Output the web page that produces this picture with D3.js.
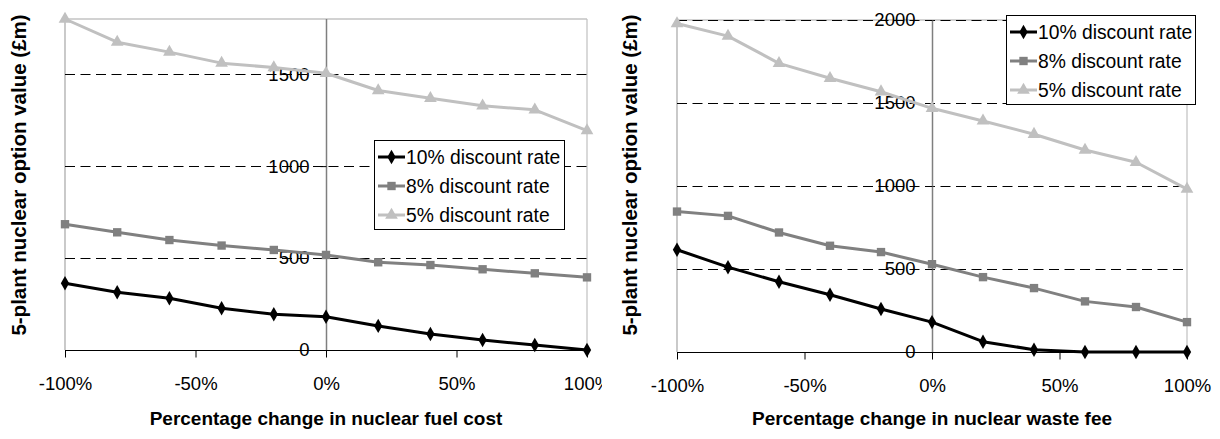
<!DOCTYPE html>
<html><head><meta charset="utf-8">
<script src="https://cdn.jsdelivr.net/npm/d3@7"></script>
<style>
html,body{margin:0;padding:0;background:#fff;}
svg{display:block;font-family:"Liberation Sans",Arial,sans-serif;}
</style></head>
<body>
<svg id="chart" width="1220" height="439"></svg>
<script>
// ---- data ----
const xValues = [-100, -80, -60, -40, -20, 0, 20, 40, 60, 80, 100];
const xTicks = [-100, -50, 0, 50, 100];
const seriesNames = ["10% discount rate", "8% discount rate", "5% discount rate"];

// Left: nuclear fuel cost
const fuel10 = [363, 314, 281, 227, 194, 181, 131, 87, 54, 27, 0];
const fuel8  = [684, 640, 598, 568, 544, 517, 477, 462, 439, 417, 395];
const fuel5  = [1800, 1674, 1620, 1560, 1536, 1505, 1411, 1369, 1328, 1306, 1193];
const fuelYTicks = [0, 500, 1000, 1500];

// Right: nuclear waste fee
const waste10 = [616, 511, 423, 345, 259, 180, 62, 14, 0, 0, 0];
const waste8  = [846, 820, 720, 640, 602, 529, 451, 385, 305, 271, 180];
const waste5  = [1979, 1903, 1739, 1649, 1568, 1468, 1392, 1312, 1217, 1143, 981];
const wasteYTicks = [0, 500, 1000, 1500, 2000];

const yTitle = "5-plant nuclear option value (£m)";
const xTitleFuel = "Percentage change in nuclear fuel cost";
const xTitleWaste = "Percentage change in nuclear waste fee";

// ---- styles ----
const colors = ["#000000", "#808080", "#c0c0c0"];
const markers = [d3.symbolDiamond, d3.symbolSquare, d3.symbolTriangle];
const markerSizes = [60, 70, 70];

const svg = d3.select("#chart");
const defs = svg.append("defs");

function drawChart(cfg) {
  const g = svg.append("g");
  if (cfg.clipRight) {
    const id = "clip" + cfg.id;
    defs.append("clipPath").attr("id", id).append("rect")
      .attr("x", 0).attr("y", 0).attr("width", cfg.clipRight).attr("height", 439);
    g.attr("clip-path", `url(#${id})`);
  }
  const x = d3.scaleLinear().domain([-100, 100]).range([cfg.x0, cfg.x1]);
  const y = d3.scaleLinear().domain([0, cfg.ymax]).range([cfg.yb, cfg.yt]);

  // plot area border (left/top/right)
  g.append("line").attr("x1", cfg.x0).attr("x2", cfg.x1).attr("y1", cfg.yt).attr("y2", cfg.yt)
    .attr("stroke", "#a6a6a6").attr("stroke-width", 1.2);
  g.append("line").attr("x1", cfg.x0).attr("x2", cfg.x0).attr("y1", cfg.yt).attr("y2", cfg.yb)
    .attr("stroke", "#a6a6a6").attr("stroke-width", 1.2);
  g.append("line").attr("x1", cfg.x1).attr("x2", cfg.x1).attr("y1", cfg.yt).attr("y2", cfg.yb)
    .attr("stroke", "#c0c0c0").attr("stroke-width", 1.2);

  // gridlines
  g.append("g").selectAll("line").data(cfg.yTicks.filter(d => d > 0)).join("line")
    .attr("x1", cfg.x0).attr("x2", cfg.x1)
    .attr("y1", d => Math.round(y(d)) + 0.5).attr("y2", d => Math.round(y(d)) + 0.5)
    .attr("stroke", "#000").attr("stroke-width", 1).attr("stroke-dasharray", "10,5.5");

  // y axis at x=0
  const yAxis = d3.axisLeft(y).tickValues(cfg.yTicks).tickSize(6).tickPadding(11)
    .tickFormat(d3.format("d"));
  const ya = g.append("g").attr("transform", `translate(${Math.round(x(0)) + 0.5},0)`).call(yAxis);
  ya.select(".domain").attr("stroke", "#7f7f7f").attr("stroke-width", 1.5)
    .attr("d", `M0,${cfg.yt}V${cfg.yb}`);
  ya.selectAll(".tick line").attr("stroke", "#000");
  ya.selectAll(".tick text").attr("font-size", 18.5).attr("fill", "#000")
    .attr("font-family", "Liberation Sans, Arial, sans-serif");

  // x axis at y=0
  const xAxis = d3.axisBottom(x).tickValues(cfg.xTicks).tickSize(7).tickPadding(19)
    .tickFormat(d => d + "%");
  const xa = g.append("g").attr("transform", `translate(0,${Math.round(y(0)) + 0.5})`).call(xAxis);
  xa.select(".domain").attr("stroke", "#000").attr("stroke-width", 1.2)
    .attr("d", `M${cfg.x0},0H${cfg.x1}`);
  xa.selectAll(".tick line").attr("stroke", "#000");
  xa.selectAll(".tick text").attr("font-size", 18.5).attr("fill", "#000")
    .attr("font-family", "Liberation Sans, Arial, sans-serif");

  // series
  const line = d3.line().x((d, i) => x(xValues[i])).y(d => y(d));
  cfg.series.forEach((vals, si) => {
    g.append("path").datum(vals).attr("d", line)
      .attr("fill", "none").attr("stroke", colors[si]).attr("stroke-width", 3)
      .attr("stroke-linejoin", "round");
    g.append("g").selectAll("path").data(vals).join("path")
      .attr("transform", (d, i) => `translate(${x(xValues[i])},${y(d)})`)
      .attr("d", d3.symbol().type(markers[si]).size(markerSizes[si]))
      .attr("fill", colors[si]);
  });

  // axis titles
  svg.append("text").attr("x", cfg.xTitleX).attr("y", 425).attr("text-anchor", "middle")
    .attr("font-size", 19).attr("font-weight", "bold").text(cfg.xTitle);
  svg.append("text")
    .attr("transform", `translate(${cfg.yTitleX},${cfg.yTitleY}) rotate(-90)`)
    .attr("text-anchor", "middle").attr("font-size", 20.5).attr("font-weight", "bold")
    .text(yTitle);

  // legend
  const L = cfg.legend;
  const lg = svg.append("g");
  lg.append("rect").attr("x", L.x + 0.5).attr("y", L.y + 0.5).attr("width", L.w).attr("height", L.h)
    .attr("fill", "#fff").attr("stroke", "#000").attr("stroke-width", 1);
  seriesNames.forEach((name, si) => {
    const cy = L.y + 17 + si * 29;
    lg.append("line").attr("x1", L.x + 4).attr("x2", L.x + 31).attr("y1", cy).attr("y2", cy)
      .attr("stroke", colors[si]).attr("stroke-width", 3);
    lg.append("path").attr("transform", `translate(${L.x + 17.5},${cy})`)
      .attr("d", d3.symbol().type(markers[si]).size(markerSizes[si])).attr("fill", colors[si]);
    lg.append("text").attr("x", L.x + 32).attr("y", cy).attr("dy", "0.35em")
      .attr("font-size", 19.3).text(name);
  });
}

drawChart({
  id: "L", x0: 65, x1: 587, yt: 19, yb: 350, ymax: 1800,
  yTicks: fuelYTicks, xTicks: xTicks, series: [fuel10, fuel8, fuel5],
  clipRight: 602, xTitle: xTitleFuel, xTitleX: 326, yTitleX: 26, yTitleY: 175,
  legend: {x: 374, y: 140, w: 190, h: 89}
});
drawChart({
  id: "R", x0: 677, x1: 1187, yt: 20, yb: 352, ymax: 2000,
  yTicks: wasteYTicks, xTicks: xTicks, series: [waste10, waste8, waste5],
  clipRight: null, xTitle: xTitleWaste, xTitleX: 932, yTitleX: 637, yTitleY: 175,
  legend: {x: 1006, y: 15, w: 189, h: 89}
});
</script>
</body></html>
